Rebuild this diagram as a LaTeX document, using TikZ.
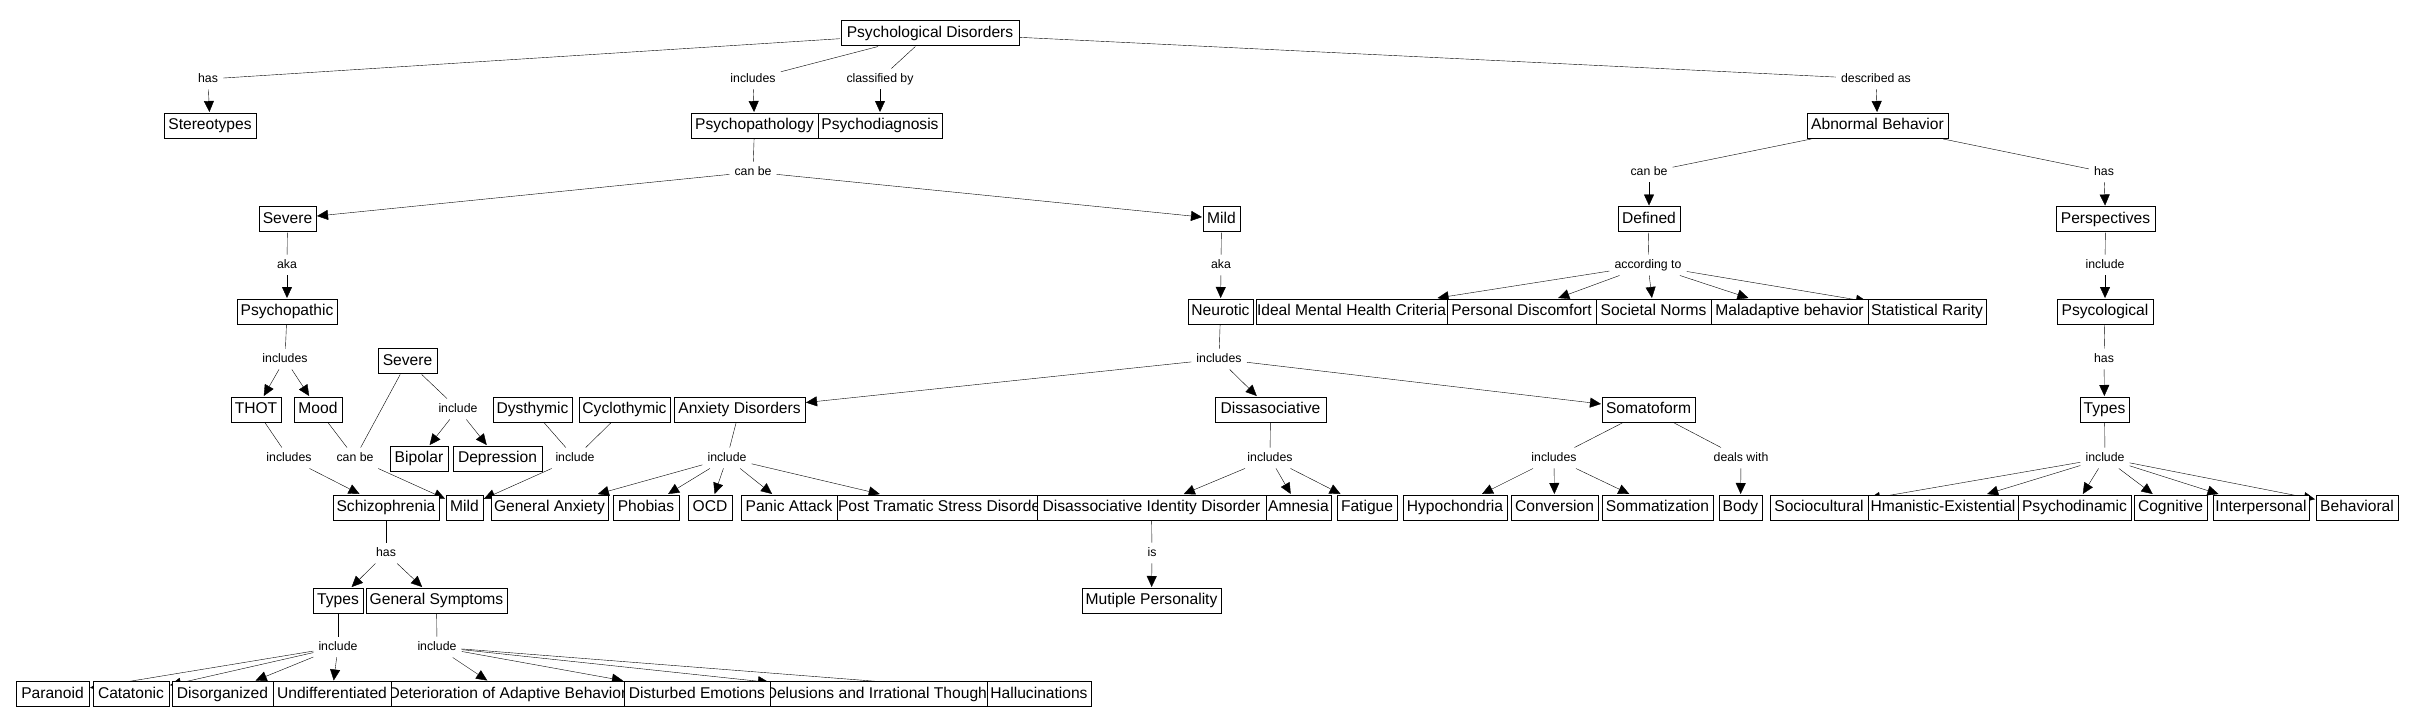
\documentclass[tikz,border=0pt]{standalone}
\usepackage{fontspec}
\setmainfont{Liberation Sans}
\usetikzlibrary{arrows.meta,backgrounds}
\newcommand\cfont{\fontsize{15.6pt}{18pt}\selectfont}
\newcommand\lfont{\fontsize{12.3pt}{14pt}\selectfont}
\newcommand\fixw[2]{\makebox[#1pt][c]{#2}}
\newcommand\fixl[2]{\makebox[#1pt][l]{\hspace{1pt}#2}}
\begin{document}
\begin{tikzpicture}[x=1pt,y=-1pt,
  con/.style={draw, fill=white, line width=0.95pt, minimum height=25pt, inner sep=0pt, outer sep=1pt, font=\cfont, text height=11.4pt, text depth=3.3pt},
  lab/.style={font=\lfont, inner xsep=5pt, inner ysep=4.5pt, text height=8.9pt, text depth=2.6pt},
  arr/.style={-{Triangle[length=11pt,width=10pt]}}]
\useasboundingbox (0,0) rectangle (2412,726);

% ---- concepts ----
\node[con, minimum width=178pt] (PD) at (930,33) {Psychological Disorders};
\node[con, minimum width=92pt] (St) at (210,125.5) {Stereotypes};
\node[con, minimum width=127pt] (Pp) at (754.5,125.5) {Psychopathology};
\node[con, minimum width=124pt] (Pd) at (880,125.5) {Psychodiagnosis};
\node[con, minimum width=141pt] (AB) at (1877.5,125.5) {Abnormal Behavior};
\node[con, minimum width=57pt] (Sev) at (287.5,219) {Severe};
\node[con, minimum width=37pt] (Mild) at (1221.5,219) {Mild};
\node[con, minimum width=62pt] (Def) at (1649,219) {Defined};
\node[con, minimum width=99pt] (Persp) at (2105.5,219) {Perspectives};
\node[con, minimum width=100pt] (Psy) at (287,311.5) {Psychopathic};
\node[con, minimum width=65pt] (Neur) at (1220.5,311.5) {Neurotic};
\node[con, minimum width=191pt] (Ideal) at (1351.5,311.5) {Ideal Mental Health Criteria};
\node[con, minimum width=149pt] (Pers) at (1521.5,311.5) {Personal Discomfort};
\node[con, minimum width=115pt] (Soc) at (1653.5,311.5) {Societal Norms};
\node[con, minimum width=157pt] (Mal) at (1789.5,311.5) {Maladaptive behavior};
\node[con, minimum width=118pt] (Stat) at (1927,311.5) {Statistical Rarity};
\node[con, minimum width=96pt] (Psyc) at (2105,311.5) {Psycological};
\node[con, minimum width=59pt] (Sev2) at (407.5,361) {Severe};
\node[con, minimum width=50pt] (THOT) at (256,409.5) {THOT};
\node[con, minimum width=48pt] (Mood) at (318,409.5) {Mood};
\node[con, minimum width=79pt] (Dys) at (532.5,409.5) {Dysthymic};
\node[con, minimum width=91pt] (Cyc) at (624.5,409.5) {Cyclothymic};
\node[con, minimum width=131pt] (Anx) at (739.5,409.5) {Anxiety Disorders};
\node[con, minimum width=111pt] (Diss) at (1270.5,409.5) {Dissasociative};
\node[con, minimum width=93pt] (Soma) at (1648.5,409.5) {Somatoform};
\node[con, minimum width=49pt] (TypesB) at (2104.5,409.5) {Types};
\node[con, minimum width=58pt] (Bip) at (419,458.5) {Bipolar};
\node[con, minimum width=89pt] (Dep) at (497.5,458.5) {Depression};
% row 8
\node[con, minimum width=106pt] (Schizo) at (386,507.5) {Schizophrenia};
\node[con, minimum width=37pt] (Mild2) at (464.5,507.5) {Mild};
\node[con, minimum width=117pt] (GenAnx) at (549.5,507.5) {General Anxiety};
\node[con, minimum width=66pt] (Phob) at (646,507.5) {Phobias};
\node[con, minimum width=44pt] (OCD) at (710,507.5) {OCD};
\node[con, minimum width=96pt] (Panic) at (789,507.5) {Panic Attack};
\node[con, minimum width=200pt] (PTSD) at (937,507.5) {\fixl{200}{Post Tramatic Stress Disorder}};
\node[con, minimum width=229pt] (DID) at (1151.5,507.5) {Disassociative Identity Disorder};
\node[con, minimum width=65pt] (Amn) at (1298.5,507.5) {Amnesia};
\node[con, minimum width=60pt] (Fat) at (1367,507.5) {Fatigue};
\node[con, minimum width=104pt] (Hypo) at (1455,507.5) {Hypochondria};
\node[con, minimum width=87pt] (Conv) at (1554.5,507.5) {Conversion};
\node[con, minimum width=111pt] (Somm) at (1657.5,507.5) {Sommatization};
\node[con, minimum width=43pt] (Body) at (1740.5,507.5) {Body};
\node[con, minimum width=98pt] (Socio) at (1819,507.5) {Sociocultural};
\node[con, minimum width=150pt] (Hman) at (1943,507.5) {\fixw{150}{Hmanistic-Existential}};
\node[con, minimum width=113pt] (Pdyn) at (2074.5,507.5) {Psychodinamic};
\node[con, minimum width=73pt] (Cog) at (2170.5,507.5) {Cognitive};
\node[con, minimum width=96pt] (Inter) at (2261,507.5) {Interpersonal};
\node[con, minimum width=82pt] (Behav) at (2357,507.5) {Behavioral};
% row 10
\node[con, minimum width=50pt] (TypesA) at (338,600.5) {Types};
\node[con, minimum width=141pt] (GS) at (436.5,600.5) {General Symptoms};
\node[con, minimum width=139pt] (Mut) at (1151.5,600.5) {Mutiple Personality};
% row 12
\node[con, minimum width=233pt] (Det) at (507.5,694) {\fixw{233}{Deterioration of Adaptive Behavior}};
\node[con, minimum width=217pt] (Del) at (878.5,694) {\fixw{217}{Delusions and Irrational Thought}};
\node[con, minimum width=73pt] (Par) at (52.5,694) {Paranoid};
\node[con, minimum width=76pt] (Cat) at (131,694) {Catatonic};
\node[con, minimum width=101pt] (Dis) at (222.5,694) {Disorganized};
\node[con, minimum width=118pt] (Und) at (332,694) {Undifferentiated};
\node[con, minimum width=146pt] (Dem) at (697,694) {Disturbed Emotions};
\node[con, minimum width=104pt] (Hal) at (1039,694) {Hallucinations};

% ---- linking phrases ----
\node[lab] (lHas1) at (208,79) {has};
\node[lab] (lInc1) at (753,79) {includes};
\node[lab] (lCls) at (880,79) {classified by};
\node[lab] (lDesc) at (1876,79) {described as};
\node[lab] (lCan1) at (753,172) {can be};
\node[lab] (lCan2) at (1649,172) {can be};
\node[lab] (lHas2) at (2104,172) {has};
\node[lab] (lAka1) at (287,265) {aka};
\node[lab] (lAka2) at (1221,265) {aka};
\node[lab] (lAcc) at (1648,265) {according to};
\node[lab] (lIncP) at (2105,265) {include};
\node[lab] (lInc3) at (285,359) {includes};
\node[lab] (lInc4) at (1219,359) {includes};
\node[lab] (lHas3) at (2104,359) {has};
\node[lab] (lInc2) at (458,409) {include};
\node[lab] (lInc5) at (289,458) {includes};
\node[lab] (lCan3) at (355,458) {can be};
\node[lab] (lIncDC) at (575,458) {include};
\node[lab] (lIncAx) at (727,458) {include};
\node[lab] (lInc6) at (1270,458) {includes};
\node[lab] (lInc7) at (1554,458) {includes};
\node[lab] (lDeals) at (1741,458) {deals with};
\node[lab] (lIncT) at (2105,458) {include};
\node[lab] (lHas4) at (386,553) {has};
\node[lab] (lIs) at (1152,553) {is};
\node[lab] (lIncTA) at (338,647) {include};
\node[lab] (lIncGS) at (437,647) {include};

% ---- connectors ----
\begin{scope}[on background layer, line width=1.1pt]
\draw (PD) -- (lHas1);  \draw[arr] (lHas1) -- (St);
\draw (PD) -- (lInc1);  \draw[arr] (lInc1) -- (Pp);
\draw (PD) -- (lCls);   \draw[arr] (lCls) -- (Pd);
\draw (PD) -- (lDesc);  \draw[arr] (lDesc) -- (AB);
\draw (Pp) -- (lCan1);  \draw[arr] (lCan1) -- (Sev); \draw[arr] (lCan1) -- (Mild);
\draw (AB) -- (lCan2);  \draw[arr] (lCan2) -- (Def);
\draw (AB) -- (lHas2);  \draw[arr] (lHas2) -- (Persp);
\draw (Sev) -- (lAka1); \draw[arr] (lAka1) -- (Psy);
\draw (Mild) -- (lAka2); \draw[arr] (lAka2) -- (Neur);
\draw (Def) -- (lAcc);
\foreach \t in {Ideal,Pers,Soc,Mal,Stat} \draw[arr] (lAcc) -- (\t);
\draw (Persp) -- (lIncP); \draw[arr] (lIncP) -- (Psyc);
\draw (Psy) -- (lInc3); \draw[arr] (lInc3) -- (THOT); \draw[arr] (lInc3) -- (Mood);
\draw (Neur) -- (lInc4);
\foreach \t in {Anx,Diss,Soma} \draw[arr] (lInc4) -- (\t);
\draw (Psyc) -- (lHas3); \draw[arr] (lHas3) -- (TypesB);
\draw (Sev2) -- (lInc2); \draw[arr] (lInc2) -- (Bip); \draw[arr] (lInc2) -- (Dep);
\draw (THOT) -- (lInc5); \draw[arr] (lInc5) -- (Schizo);
\draw (Mood) -- (lCan3); \draw (Sev2) -- (lCan3); \draw[arr] (lCan3) -- (Mild2);
\draw (Dys) -- (lIncDC); \draw (Cyc) -- (lIncDC); \draw[arr] (lIncDC) -- (Mild2);
\draw (Anx) -- (lIncAx);
\foreach \t in {GenAnx,Phob,OCD,Panic,PTSD} \draw[arr] (lIncAx) -- (\t);
\draw (Diss) -- (lInc6);
\foreach \t in {DID,Amn,Fat} \draw[arr] (lInc6) -- (\t);
\draw (Soma) -- (lInc7);
\foreach \t in {Hypo,Conv,Somm} \draw[arr] (lInc7) -- (\t);
\draw (Soma) -- (lDeals); \draw[arr] (lDeals) -- (Body);
\draw (TypesB) -- (lIncT);
\foreach \t in {Socio,Hman,Pdyn,Cog,Inter,Behav} \draw[arr] (lIncT) -- (\t);
\draw (Schizo) -- (lHas4); \draw[arr] (lHas4) -- (TypesA); \draw[arr] (lHas4) -- (GS);
\draw (DID) -- (lIs); \draw[arr] (lIs) -- (Mut);
\draw (TypesA) -- (lIncTA);
\foreach \t in {Par,Cat,Dis,Und} \draw[arr] (lIncTA) -- (\t);
\draw (GS) -- (lIncGS);
\foreach \t in {Det,Dem,Del,Hal} \draw[arr] (lIncGS) -- (\t);
\end{scope}
\end{tikzpicture}
\end{document}
